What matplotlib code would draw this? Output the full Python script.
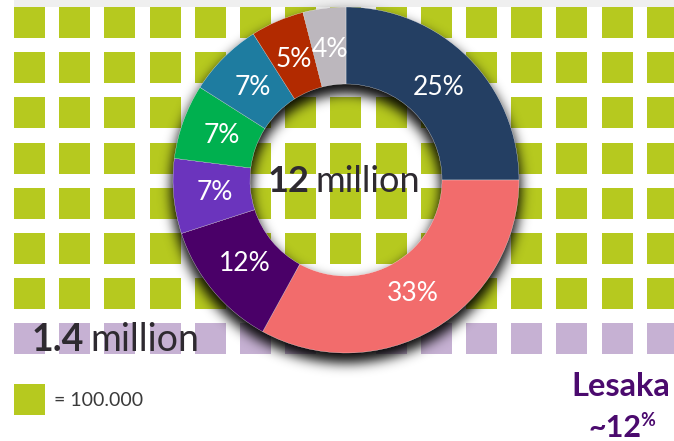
import numpy as np
import matplotlib.pyplot as plt
from matplotlib.patches import Rectangle

plt.rcParams['font.family'] = ['Lato', 'DejaVu Sans']

# Data
shares = [25, 33, 12, 7, 7, 7, 5, 4]
share_colors = ['#243f63', '#f26c6c', '#4a0068', '#6b34bd',
                '#00b04f', '#1e7ca0', '#b22a00', '#bcb7bd']
total_label = ['12', 'million']
sub_label = ['1.4', 'million']
unit_label = '= 100.000'
lesaka_name = 'Lesaka'
lesaka_share = '~12'
green_rows = 7
lavender_rows = 1
grid_cols = 15

GREEN = '#b6c91f'
LAVENDER = '#c6b1d3'
DARK = '#2e2a30'
PURPLE = '#4b0a6e'

W, H = 674, 441
fig = plt.figure(figsize=(W / 100, H / 100), dpi=100)
ax = fig.add_axes([0, 0, 1, 1])

# square grid (pixel coords, y down)
x0, y0, pitch, side = 14, 7, 45.2, 31
ax.add_patch(Rectangle((x0, 0), W - x0, y0, color='#efefef', lw=0, zorder=1))
for r in range(green_rows + lavender_rows):
    col = GREEN if r < green_rows else LAVENDER
    for c in range(grid_cols):
        ax.add_patch(Rectangle((x0 + c * pitch, y0 + r * pitch), side, side,
                               color=col, lw=0, zorder=1))

# legend square
ax.add_patch(Rectangle((x0, 384), side, side, color=GREEN, lw=0, zorder=1))
ax.text(x0 + side + 9, 400, unit_label, fontsize=14,
        color='#3a3a3a', va='center', ha='left')

# donut shadow
cx, cy, r_out, r_in = 346, 180, 173, 96
yy, xx = np.mgrid[0:H, 0:W] + 0.5
d = np.hypot(xx - cx, yy - (cy + 8))
mask = ((d <= r_out + 2) & (d >= r_in - 2)).astype(float)


def blur(a, s):
    rad = int(3 * s)
    k = np.exp(-0.5 * (np.arange(-rad, rad + 1) / s) ** 2)
    k /= k.sum()
    a = np.apply_along_axis(lambda m: np.convolve(m, k, mode='same'), 0, a)
    a = np.apply_along_axis(lambda m: np.convolve(m, k, mode='same'), 1, a)
    return a


shadow = blur(mask, 6)
rgba = np.zeros((H, W, 4))
rgba[..., 3] = np.clip(shadow * 0.95, 0, 1)
ax.imshow(rgba, extent=(0, W, H, 0), origin='upper', zorder=2, interpolation='bilinear')

# donut
wedges, texts, autotexts = ax.pie(
    shares, colors=share_colors, radius=r_out, center=(cx, cy),
    startangle=-90, counterclock=True,
    autopct=lambda p: f'{round(p)}%', pctdistance=0.76,
    wedgeprops=dict(width=r_out - r_in, edgecolor='white', linewidth=0.2, zorder=3),
    textprops=dict(color='white', fontsize=19, zorder=4))

# centre label
t1 = ax.text(268, 182, total_label[0], fontsize=26, fontweight='bold',
             color=DARK, ha='left', va='center', zorder=5)
ax.annotate(total_label[1], xy=(1, 0.5), xycoords=t1, xytext=(4, 0),
            textcoords='offset points', fontsize=26,
            color=DARK, ha='left', va='center', zorder=5)

# 1.4 million label
t2 = ax.text(32, 340, sub_label[0], fontsize=27, fontweight='bold',
             color=DARK, ha='left', va='center', zorder=5)
ax.annotate(sub_label[1], xy=(1, 0.5), xycoords=t2, xytext=(4, 0),
            textcoords='offset points', fontsize=27,
            color=DARK, ha='left', va='center', zorder=5)

# Lesaka
ax.text(571, 386, lesaka_name, fontsize=23.5, fontweight='bold', color=PURPLE,
        ha='left', va='center', zorder=5)
t3 = ax.text(589, 428, lesaka_share, fontsize=22, fontweight='bold', color=PURPLE,
             ha='left', va='center', zorder=5)
ax.annotate('%', xy=(1, 0.75), xycoords=t3, xytext=(-1.5, 0),
            textcoords='offset points', fontsize=13, fontweight='bold',
            color=PURPLE, ha='left', va='center', zorder=5)

ax.set_xlim(0, W)
ax.set_ylim(H, 0)
ax.set_aspect('auto')
ax.axis('off')

plt.savefig('out.png', dpi=100)
